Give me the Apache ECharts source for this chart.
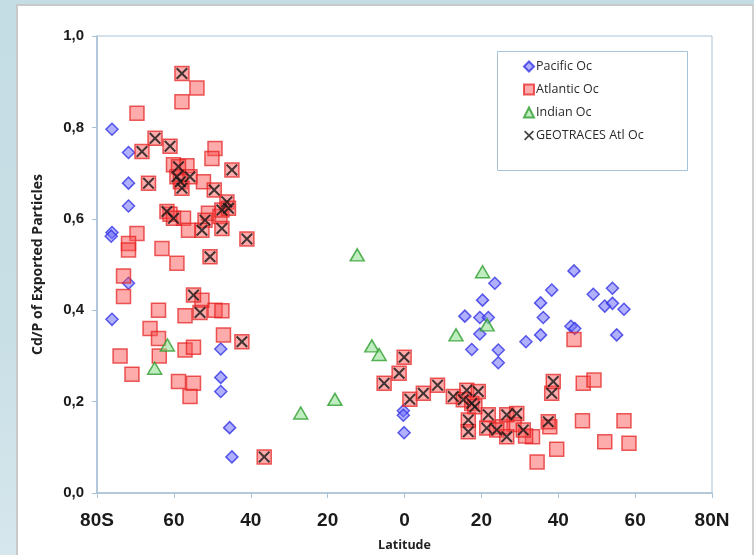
<!DOCTYPE html>
<html>
<head>
<meta charset="utf-8">
<script src="https://cdn.jsdelivr.net/npm/echarts@6/dist/echarts.min.js"></script>
<style>
  html, body { margin: 0; padding: 0; }
  body { width: 754px; height: 555px; overflow: hidden; position: relative;
         background: linear-gradient(180deg, #c4dce4 0%, #c9dfe6 60%, #d6e7ed 100%); }
  #panel { position: absolute; left: 16px; top: 4px; width: 734px; height: 560px;
           background: #fff; border-left: 2px solid #c9c9c9; border-top: 2px solid #c9c9c9;
           border-right: 2px solid #d0d0d0; }
  #main { position: absolute; left: 0; top: 0; width: 754px; height: 555px; }
</style>
</head>
<body>
<div id="panel"></div>
<div id="main"></div>
<script>
// [latitude (negative = south), Cd/P]
var pacific = [
  [-76.1, 0.796], [-71.8, 0.745], [-71.8, 0.678], [-71.8, 0.628], [-76.1, 0.570], [-76.3, 0.562],
  [-71.8, 0.459], [-76.1, 0.380], [-47.8, 0.315], [-47.8, 0.253], [-47.8, 0.222], [-45.5, 0.143],
  [-44.9, 0.079], [-0.3, 0.180], [-0.3, 0.170], [-0.1, 0.132],
  [23.5, 0.459], [20.3, 0.422], [15.7, 0.387], [19.6, 0.384], [21.8, 0.384], [19.6, 0.348],
  [17.5, 0.314], [24.4, 0.313], [24.4, 0.285], [31.6, 0.331], [35.4, 0.346], [36.1, 0.384],
  [35.4, 0.416], [38.3, 0.444], [44.1, 0.486], [43.3, 0.365], [44.3, 0.360], [49.1, 0.435],
  [54.1, 0.448], [52.1, 0.409], [54.1, 0.415], [57.1, 0.402], [55.2, 0.346]
];
var atlantic = [
  [-69.6, 0.831], [-54.0, 0.886], [-57.9, 0.856], [-49.3, 0.754], [-50.1, 0.732], [-60.1, 0.718],
  [-56.6, 0.716], [-52.3, 0.681], [-61.0, 0.610], [-57.5, 0.601], [-51.0, 0.612], [-48.0, 0.605],
  [-56.2, 0.575], [-69.6, 0.568], [-71.8, 0.546], [-71.8, 0.532], [-63.1, 0.535], [-59.2, 0.503],
  [-73.1, 0.475], [-73.1, 0.430], [-52.7, 0.422], [-64.0, 0.400], [-57.1, 0.388], [-49.3, 0.400],
  [-47.5, 0.399], [-66.2, 0.360], [-64.0, 0.338], [-47.1, 0.346], [-74.0, 0.300], [-63.8, 0.300],
  [-57.1, 0.313], [-54.9, 0.319], [-70.9, 0.260], [-58.8, 0.244], [-54.9, 0.240], [-55.8, 0.211],
  [44.1, 0.336], [46.5, 0.240], [49.3, 0.247], [37.8, 0.145], [46.3, 0.158], [57.1, 0.158],
  [52.1, 0.112], [58.4, 0.109], [39.6, 0.096], [34.5, 0.068], [33.3, 0.123], [28.5, 0.150],
  [31.5, 0.125], [25.5, 0.145]
];
var indian = [
  [-61.7, 0.324], [-65.0, 0.273], [-27.0, 0.175], [-18.1, 0.205], [-12.3, 0.521], [-8.5, 0.322],
  [-6.6, 0.303], [13.4, 0.346], [20.3, 0.484], [21.5, 0.368]
];
var geotraces = [
  [-57.9, 0.918], [-64.9, 0.776], [-68.3, 0.747], [-61.0, 0.759], [-44.9, 0.707], [-58.8, 0.714],
  [-59.2, 0.692], [-55.8, 0.692], [-58.3, 0.681], [-57.9, 0.667], [-66.6, 0.678], [-49.5, 0.663],
  [-46.2, 0.637], [-47.5, 0.619], [-45.8, 0.623], [-61.8, 0.616], [-60.1, 0.601], [-51.9, 0.597],
  [-52.7, 0.575], [-47.5, 0.579], [-41.0, 0.556], [-50.6, 0.517], [-54.9, 0.433], [-53.2, 0.395],
  [-42.3, 0.331], [-36.5, 0.079],
  [-0.1, 0.297], [-1.4, 0.262], [-5.3, 0.240], [1.4, 0.205], [4.9, 0.218], [8.6, 0.236],
  [12.7, 0.211], [16.2, 0.225], [19.2, 0.222], [15.3, 0.204], [17.5, 0.196], [18.3, 0.189],
  [16.6, 0.160], [16.6, 0.134], [21.8, 0.171], [21.4, 0.142], [24.0, 0.138], [26.6, 0.171],
  [29.2, 0.174], [26.6, 0.123], [30.9, 0.138], [37.4, 0.156], [38.3, 0.218], [38.7, 0.244]
];
var seriesNames = ['Pacific Oc', 'Atlantic Oc', 'Indian Oc', 'GEOTRACES Atl Oc'];

var crossPath = 'path://M0,1.2L1.2,0L5,3.8L8.8,0L10,1.2L6.2,5L10,8.8L8.8,10L5,6.2L1.2,10L0,8.8L3.8,5Z';
var tickFont = "'Liberation Sans Narrow', 'Arial Narrow', 'Liberation Sans', Arial, sans-serif";
var textFont = "'Open Sans', 'Noto Sans', sans-serif";

var atlStyle = { color: 'rgba(250,80,80,0.6)', borderColor: 'rgba(228,30,30,0.9)', borderWidth: 1.5 };
var frameColor = '#a9c2d6';

var myChart = echarts.init(document.getElementById('main'));
var option = {
  animation: false,
  grid: {
    left: 97, right: 42, top: 36, bottom: 62, outerBoundsMode: 'none',
    show: true, borderColor: frameColor, borderWidth: 1
  },
  graphic: [{
    type: 'rect', left: 497, top: 51, shape: { width: 190, height: 119 },
    style: { fill: '#fff', stroke: '#a6c3dc', lineWidth: 1 }, z: 0
  }],
  legend: {
    data: seriesNames, orient: 'vertical', left: 518, top: 55,
    itemWidth: 10, itemHeight: 10, itemGap: 10,
    textStyle: { fontFamily: textFont, fontSize: 12.5, lineHeight: 13, color: '#2a2a2a', padding: [0, 0, 0, -3] },
    z: 5
  },
  xAxis: {
    type: 'value', min: -80, max: 80, interval: 20,
    name: 'Latitude', nameLocation: 'middle', nameGap: 46,
    nameTextStyle: { fontFamily: textFont, fontSize: 12.5, fontWeight: 'bold', color: '#222' },
    axisLine: { onZero: false, lineStyle: { color: frameColor, width: 1.5 } },
    axisTick: { show: true, inside: false, length: 5, lineStyle: { color: frameColor } },
    splitLine: { show: false },
    axisLabel: {
      margin: 18, color: '#1a1a1a', fontFamily: tickFont, fontSize: 19, fontWeight: 'bold',
      formatter: function (v) { return v === -80 ? '80S' : (v === 80 ? '80N' : String(Math.abs(v))); }
    }
  },
  yAxis: {
    type: 'value', min: 0, max: 1, interval: 0.2,
    name: 'Cd/P of Exported Particles', nameLocation: 'middle', nameGap: 52,
    nameTextStyle: { fontFamily: textFont, fontSize: 14, fontWeight: 'bold', color: '#222' },
    axisLine: { show: true, onZero: false, lineStyle: { color: frameColor, width: 1.5 } },
    axisTick: { show: true, inside: false, length: 5, lineStyle: { color: frameColor } },
    splitLine: { show: false },
    axisLabel: {
      margin: 13, color: '#1a1a1a', fontFamily: tickFont, fontSize: 15, fontWeight: 'bold',
      formatter: function (v) { return v.toFixed(1).replace('.', ','); }
    }
  },
  series: [
    {
      name: 'Pacific Oc', type: 'scatter', data: pacific, symbol: 'diamond', symbolSize: 12,
      itemStyle: { color: 'rgba(115,115,250,0.7)', borderColor: '#3535e6', borderWidth: 1.5 }
    },
    {
      name: 'Atlantic Oc', type: 'scatter', data: atlantic, symbol: 'rect', symbolSize: 14,
      itemStyle: atlStyle
    },
    {
      name: 'Atlantic GEOTRACES', type: 'scatter', data: geotraces, symbol: 'rect', symbolSize: 14,
      itemStyle: atlStyle
    },
    {
      name: 'Indian Oc', type: 'scatter', data: indian, symbol: 'triangle', symbolSize: [14, 12],
      itemStyle: { color: 'rgba(150,225,150,0.75)', borderColor: '#2e9e2e', borderWidth: 1.5 }
    },
    {
      name: 'GEOTRACES Atl Oc', type: 'scatter', data: geotraces, symbol: crossPath, symbolSize: 12,
      itemStyle: { color: '#151515' }, z: 3
    }
  ]
};
myChart.setOption(option);
</script>
</body>
</html>
